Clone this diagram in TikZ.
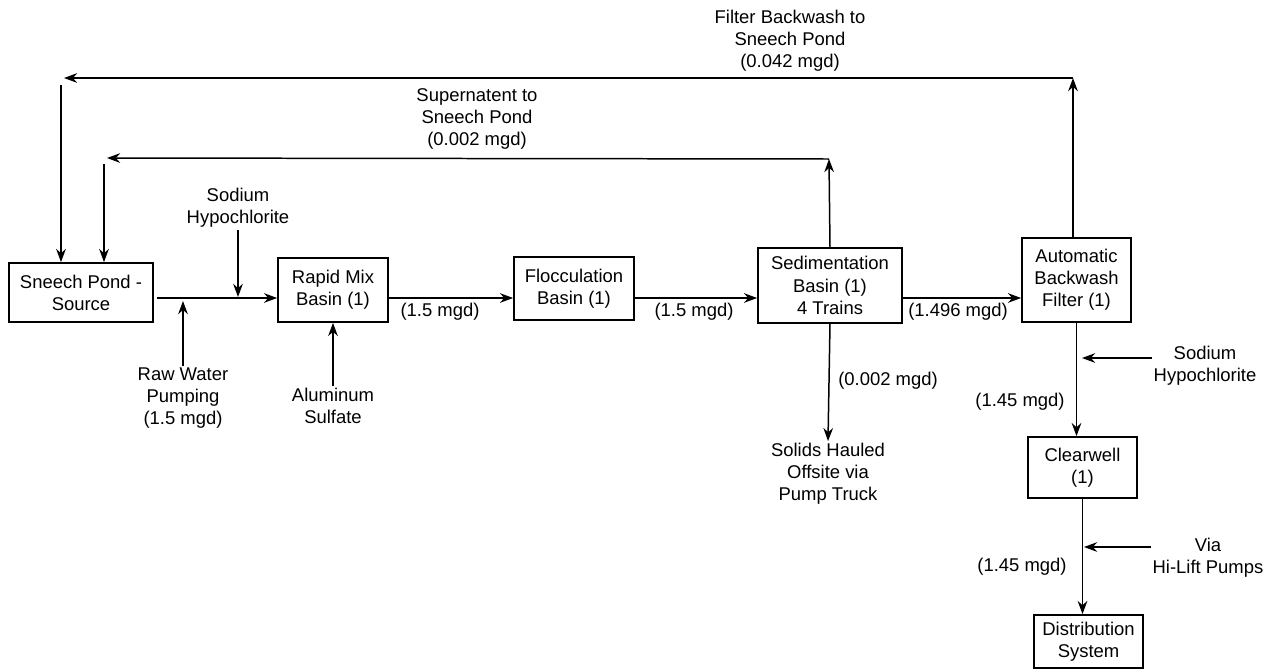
\documentclass[tikz,border=0pt]{standalone}
\usepackage{fontspec}
\setmainfont{Liberation Sans}
\usepackage{tikz}
\usetikzlibrary{positioning, arrows.meta, calc}

\begin{document}
\begin{tikzpicture}[x=0.02cm, y=-0.02cm,
    box/.style={draw, rectangle, line width=1pt, inner sep=1pt, align=center, font=\fontsize{10.5}{12.6}\selectfont},
    lbl/.style={align=center, inner sep=1pt, font=\fontsize{10.5}{12.6}\selectfont},
    flow/.style={-{Stealth[length=7.5pt, width=5.5pt]}, line width=0.85pt}]
      \useasboundingbox (0,0) rectangle (1272,670);

      \node[box, minimum width=2.88cm, minimum height=1.18cm] (pond) at (81, 292.5) {Sneech Pond -\\Source};
      \node[box, minimum width=2.2cm, minimum height=1.28cm] (rapid) at (333, 290) {Rapid Mix\\Basin (1)};
      \node[box, minimum width=2.4cm, minimum height=1.26cm] (floc) at (574, 288.5) {Flocculation\\Basin (1)};
      \node[box, minimum width=2.88cm, minimum height=1.5cm] (sed) at (830, 285.5) {Sedimentation\\Basin (1)\\4 Trains};
      \node[box, minimum width=2.18cm, minimum height=1.68cm] (filt) at (1076.5, 280) {Automatic\\Backwash\\Filter (1)};
      \node[box, minimum width=2.18cm, minimum height=1.22cm] (clear) at (1082.5, 467.5) {Clearwell\\(1)};
      \node[box, minimum width=2.18cm, minimum height=1.06cm] (dist) at (1088.5, 641.5) {Distribution\\System};

      \node[lbl] (naocl1) at (238, 208) {Sodium\\Hypochlorite};
      \node[lbl] (raw) at (183, 398) {Raw Water\\Pumping\\(1.5 mgd)};
      \node[lbl] (alum) at (333, 406) {Aluminum\\Sulfate};
      \node[lbl] (q1) at (440, 312) {(1.5 mgd)};
      \node[lbl] (q2) at (694, 312) {(1.5 mgd)};
      \node[lbl] (q3) at (958, 312) {(1.496 mgd)};
      \node[lbl] (q4) at (888, 381) {(0.002 mgd)};
      \node[lbl] (solids) at (828, 474) {Solids Hauled\\Offsite via\\Pump Truck};
      \node[lbl] (naocl2) at (1205, 366) {Sodium\\Hypochlorite};
      \node[lbl] (q5) at (1020, 402) {(1.45 mgd)};
      \node[lbl] (via) at (1208, 558) {Via\\Hi-Lift Pumps};
      \node[lbl] (q6) at (1022, 567) {(1.45 mgd)};
      \node[lbl] (super) at (477, 119) {Supernatent to\\Sneech Pond\\(0.002 mgd)};
      \node[lbl] (backw) at (790, 41) {Filter Backwash to\\Sneech Pond\\(0.042 mgd)};

      \coordinate (flowy) at (0, 298);
      \coordinate (mix1) at (238, 297);
      \coordinate (rawin) at (183, 301);
      \coordinate (supup) at (829, 159);
      \coordinate (supend) at (107, 158);
      \coordinate (supdown) at (104, 164);
      \coordinate (bwup) at (1073, 78);
      \coordinate (bwend) at (64, 78);
      \coordinate (bwdown) at (61, 85);
      \coordinate (cl2in) at (1082, 358);
      \coordinate (viain) at (1084, 547);

      \draw[flow] ($(pond.east |- flowy)+(3,0)$) -- (rapid.west |- flowy);
      \draw[flow] (naocl1) -- (mix1);
      \draw[flow] (raw) -- (rawin);
      \draw[flow] (alum) -- (rapid.south);
      \draw[flow] (rapid.east |- flowy) -- (floc.west |- flowy);
      \draw[flow] (floc.east |- flowy) -- (sed.west |- flowy);
      \draw[flow] (sed.east |- flowy) -- (filt.west |- flowy);

      \draw[flow] (sed.north) -- (supup);
      \draw[flow] (supup) -- (supend);
      \draw[flow] (supdown) -- (pond.north -| supdown);

      \draw[flow] (filt.north -| bwup) -- (bwup);
      \draw[flow] (bwup) -- (bwend);
      \draw[flow] (bwdown) -- (pond.north -| bwdown);

      \draw[flow] (sed.south) -- (solids.north);
      \draw[flow] (filt.south) -- (filt.south |- clear.north);
      \draw[flow] (naocl2.west |- cl2in) -- (cl2in);
      \draw[flow] (clear.south) -- (clear.south |- dist.north);
      \draw[flow] (via.west |- viain) -- (viain);
    \end{tikzpicture}
\end{document}
